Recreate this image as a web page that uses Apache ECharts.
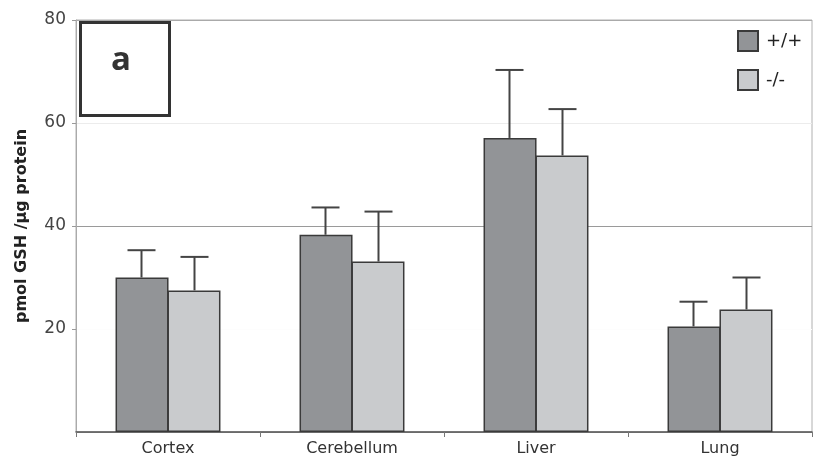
<!DOCTYPE html>
<html>
<head>
<meta charset="utf-8">
<script src="https://cdn.jsdelivr.net/npm/echarts@6/dist/echarts.min.js"></script>
<style>html,body{margin:0;padding:0;background:#fff;}#c{width:815px;height:467px;}</style>
</head>
<body>
<div id="c"></div>
<script>
var categories = ['Cortex', 'Cerebellum', 'Liver', 'Lung'];
var wtMean = [30.0, 38.3, 57.1, 20.5];
var wtErr  = [5.3, 5.3, 13.2, 4.8];
var koMean = [27.5, 33.1, 53.7, 23.8];
var koErr  = [6.5, 9.7, 9.0, 6.2];
var yTicks = [0, 20, 40, 60, 80];
var seriesNames = ['+/+', '-/-'];
var panelLabel = 'a';
var yName = 'pmol GSH /µg protein';

var BAR_W = 53;
function errData(mean, err) {
  return mean.map(function (m, i) { return [i, m, m + err[i]]; });
}
function errSeries(mean, err, offset) {
  return {
    type: 'custom',
    name: 'err' + offset,
    z: 5,
    data: errData(mean, err),
    encode: { x: 0, y: [1, 2] },
    renderItem: function (params, api) {
      var c = api.value(0);
      var p0 = api.coord([c, api.value(1)]);
      var p1 = api.coord([c, api.value(2)]);
      var x = p0[0] + offset;
      var style = { stroke: '#444', lineWidth: 2 };
      return {
        type: 'group',
        children: [
          { type: 'line', shape: { x1: x, y1: p0[1], x2: x, y2: p1[1] }, style: style },
          { type: 'line', shape: { x1: x - 14, y1: p1[1], x2: x + 14, y2: p1[1] }, style: style }
        ]
      };
    }
  };
}

var chart = echarts.init(document.getElementById('c'), null, { renderer: 'canvas' });
chart.setOption({
  animation: false,
  backgroundColor: '#fff',
  grid: { left: 76, right: 3, top: 20, bottom: 35, show: true, borderColor: '#b0b0b0', borderWidth: 1, backgroundColor: 'transparent' },
  legend: {
    data: seriesNames,
    orient: 'vertical',
    left: 732, top: 25,
    itemWidth: 20, itemHeight: 20, itemGap: 17,
    icon: 'rect',
    textStyle: { fontFamily: 'DejaVu Sans', fontSize: 18, color: '#222', padding: [0, 0, 0, 3] }
  },
  xAxis: {
    type: 'category',
    data: categories,
    axisLine: { lineStyle: { color: '#555', width: 1.5 } },
    axisTick: { show: true, length: 5, lineStyle: { color: '#777' } },
    axisLabel: { fontFamily: 'DejaVu Sans', fontSize: 16, color: '#333', margin: 9 }
  },
  yAxis: {
    type: 'value',
    min: yTicks[0], max: yTicks[yTicks.length - 1], interval: 20,
    name: yName,
    nameLocation: 'middle',
    nameGap: 46,
    nameRotate: 90,
    nameTextStyle: { fontFamily: 'DejaVu Sans', fontWeight: 'bold', fontSize: 16, color: '#222' },
    axisLine: { show: true, lineStyle: { color: '#aaa' } },
    axisTick: { show: true, length: 4, lineStyle: { color: '#999' } },
    axisLabel: { fontFamily: 'DejaVu Sans', fontSize: 17, color: '#444', margin: 10, showMinLabel: false },
    splitLine: { show: true, lineStyle: { color: ['#aaa', '#fdfdfd', '#9a9a9a', '#ececec', '#aaa'], width: 1 } }
  },
  series: [
    {
      name: seriesNames[0], type: 'bar', data: wtMean, barWidth: BAR_W, barGap: '-2%',
      itemStyle: { color: '#929497', borderColor: '#3a3a3a', borderWidth: 1.5 }
    },
    {
      name: seriesNames[1], type: 'bar', data: koMean, barWidth: BAR_W, barGap: '-2%',
      itemStyle: { color: '#c9cbcd', borderColor: '#3a3a3a', borderWidth: 1.5 }
    },
    errSeries(wtMean, wtErr, -BAR_W / 2),
    errSeries(koMean, koErr, BAR_W / 2)
  ],
  graphic: [
    { type: 'rect', left: 79, top: 21, shape: { width: 89, height: 93 }, style: { fill: '#fff', stroke: '#333', lineWidth: 3 }, z: 10 },
    { type: 'text', left: 111, top: 44, style: { text: panelLabel, font: 'bold 33px "Open Sans", "DejaVu Sans"', fill: '#333' }, z: 11 }
  ]
});
</script>
</body>
</html>
